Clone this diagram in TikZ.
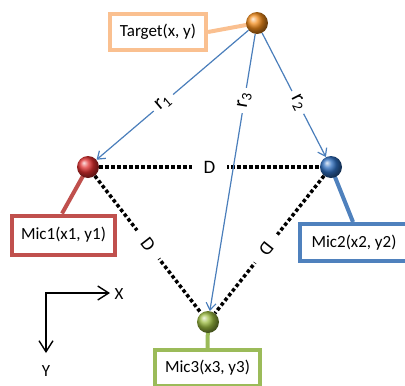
\documentclass[tikz,border=0pt]{standalone}
\usepackage{fontspec}
\setmainfont{Carlito}
\usetikzlibrary{arrows.meta,backgrounds}
\definecolor{ballorange}{HTML}{F28C1C}
\definecolor{tgtbox}{HTML}{FAC090}
\definecolor{micred}{HTML}{C0504D}
\definecolor{ballred}{HTML}{E03030}
\definecolor{micblue}{HTML}{4F81BD}
\definecolor{ballblue}{HTML}{2F6FC0}
\definecolor{micgreen}{HTML}{9BBB59}
\definecolor{ballgreen}{HTML}{9BBB40}
\definecolor{linkblue}{HTML}{4A7EBB}
\begin{document}
\begin{tikzpicture}[x=1pt,y=-1pt,
  ball/.style={circle, minimum size=22pt, inner sep=0pt, shading=ball, ball color=#1},
  infobox/.style={draw=#1, line width=4pt, fill=white, inner sep=0pt,
    font=\fontsize{17}{20}\selectfont},
  link/.style={draw=#1, line width=4pt},
  dist/.style={draw=linkblue, line width=1.2pt, -{Straight Barb[length=7pt,width=10pt]}},
  dots/.style={line width=3.5pt, dash pattern=on 3.5pt off 2.5pt},
  dlbl/.style={fill=white, font=\fontsize{19}{20}\selectfont, inner xsep=12pt, inner ysep=2pt},
  rlbl/.style={fill=white, font=\fontsize{21}{22}\selectfont, inner xsep=5pt, inner ysep=1pt},
  axis/.style={line width=1.4pt, {Straight Barb[length=11pt,width=14pt]}-{Straight Barb[length=11pt,width=14pt]}},
  axlbl/.style={font=\fontsize{17}{20}\selectfont, inner sep=0pt}]
\useasboundingbox (0,0) rectangle (405,386);
\clip (0,0) rectangle (405,386);

% balls
\node[ball=ballorange] (target) at (257,23) {};
\node[ball=ballred]    (m1) at (88,167) {};
\node[ball=ballblue]   (m2) at (331,167) {};
\node[ball=ballgreen]  (m3) at (208,322) {};

% boxes
\node[infobox=tgtbox, minimum width=96pt, minimum height=36pt] (tbox) at (158,32) {Target(x, y)};
\node[infobox=micred, minimum width=103pt, minimum height=39pt] (b1) at (63.5,235) {Mic1(x1, y1)};
\node[infobox=micblue, minimum width=108pt, minimum height=37pt] (b2) at (354,242.5) {Mic2(x2, y2)};
\node[infobox=micgreen, minimum width=105pt, minimum height=36pt] (b3) at (207.5,368) {Mic3(x3, y3)};

% box connectors
\begin{scope}[on background layer]
  \draw[link=tgtbox] (tbox.east) -- (target.center);
  \draw[link=micred] (b1.north -| 62,0) -- (m1.center);
  \draw[link=micblue] (b2.north -| 353,0) -- (m2.center);
  \draw[link=micgreen] (b3.north) -- (m3.center);
\end{scope}

% distances D
\draw[dots] (m1) -- node[dlbl] {D} (m2);
\draw[dots] (m1) -- node[dlbl, sloped, pos=0.5] {D} (m3);
\draw[dots] (m2) -- node[dlbl, sloped, allow upside down, pos=0.53] {D} (m3);

% ranges r
\draw[dist] (target) -- node[rlbl, sloped, pos=0.56] {r\textsubscript{1}} (m1);
\draw[dist] (target) -- node[rlbl, sloped, pos=0.56] {r\textsubscript{2}} (m2);
\draw[dist] (target) -- node[rlbl, sloped, pos=0.24] {r\textsubscript{3}} (m3);

% axes
\coordinate (o) at (46,293);
\coordinate (xe) at (110,293);
\coordinate (ye) at (46,353);
\draw[axis] (xe) -- (o) -- (ye);
\node[axlbl] (xl) at (119,294) {X};
\node[axlbl] (yl) at (46,371) {Y};
\end{tikzpicture}
\end{document}
